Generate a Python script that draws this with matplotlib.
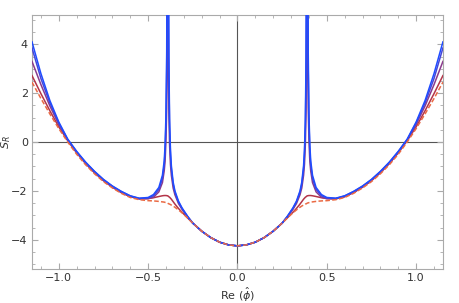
import numpy as np
import matplotlib.pyplot as plt
from matplotlib.ticker import MultipleLocator

# sample positions (x >= 0); curves are symmetric about x = 0
x_half = [0.0, 0.05, 0.1, 0.15, 0.2, 0.25, 0.28, 0.31, 0.33, 0.35, 0.36, 0.37, 0.375,
          0.38, 0.384, 0.387, 0.389, 0.391, 0.393, 0.396, 0.40, 0.405, 0.41, 0.42,
          0.44, 0.47, 0.5, 0.55, 0.6, 0.65, 0.7, 0.75, 0.8, 0.85, 0.9, 0.95, 1.0,
          1.05, 1.1, 1.15]

# dashed (smooth) curve
s_a = [-4.25, -4.21, -4.10, -3.91, -3.65, -3.32, -3.10, -2.90, -2.78, -2.67, -2.62, -2.58, -2.56,
       -2.54, -2.53, -2.52, -2.51, -2.50, -2.495, -2.49, -2.48, -2.47, -2.46, -2.45,
       -2.43, -2.41, -2.40, -2.36, -2.27, -2.10, -1.88, -1.62, -1.30, -0.93, -0.50, 0.0, 0.55,
       1.15, 1.78, 2.45]
# red, small bump
s_b = [-4.25, -4.21, -4.10, -3.91, -3.65, -3.32, -3.10, -2.88, -2.72, -2.54, -2.44, -2.34, -2.30,
       -2.26, -2.24, -2.22, -2.21, -2.20, -2.20, -2.195, -2.19, -2.19, -2.19, -2.20,
       -2.23, -2.28, -2.31, -2.32, -2.24, -2.07, -1.85, -1.58, -1.26, -0.88, -0.44, 0.06, 0.62,
       1.28, 1.98, 2.72]
# purple, tall peak
s_c = [-4.25, -4.21, -4.10, -3.91, -3.65, -3.32, -3.06, -2.76, -2.52, -2.16, -1.88, -1.36, -0.92,
       -0.10, 1.30, 3.60, 8.00, 8.00, 3.60, 1.40, 0.10, -0.78, -1.18, -1.66,
       -2.04, -2.26, -2.32, -2.33, -2.23, -2.06, -1.84, -1.57, -1.24, -0.87, -0.43, 0.07, 0.72,
       1.48, 2.35, 3.30]
# blue-purple, near-divergent
s_d = [-4.25, -4.21, -4.10, -3.91, -3.65, -3.32, -3.04, -2.72, -2.46, -2.06, -1.73, -1.12, -0.52,
       0.62, 2.80, 7.10, 13.5, 13.5, 7.10, 3.00, 0.85, -0.38, -0.95, -1.50,
       -1.94, -2.20, -2.29, -2.31, -2.21, -2.03, -1.81, -1.54, -1.21, -0.84, -0.40, 0.10, 0.78,
       1.60, 2.60, 3.85]
# blue, divergent
s_e = [-4.25, -4.21, -4.10, -3.91, -3.65, -3.32, -3.03, -2.70, -2.42, -2.00, -1.64, -0.97, -0.33,
       0.94, 3.47, 9.80, 34.9, 34.9, 10.0, 3.70, 1.15, -0.12, -0.77, -1.36,
       -1.86, -2.15, -2.27, -2.30, -2.20, -2.02, -1.80, -1.53, -1.20, -0.82, -0.38, 0.12, 0.82,
       1.70, 2.80, 4.10]

curves = [s_a, s_b, s_c, s_d, s_e]
colors = ["#ea6a44", "#b33448", "#8a3a8c", "#4646d8", "#1f4cff"]
styles = ["--", "-", "-", "-", "-"]
# dashed on top, then blue down to red
layer = [10, 3, 4, 5, 6]


def mirror(xs, ys):
    xs = np.asarray(xs)
    ys = np.asarray(ys)
    return np.concatenate([-xs[:0:-1], xs]), np.concatenate([ys[:0:-1], ys])


fig = plt.figure(figsize=(4.59, 3.03), dpi=100)
ax = fig.add_axes([0.0697, 0.112, 0.8953, 0.8385])

ax.axhline(0, color="#555555", lw=0.8, zorder=1)
ax.axvline(0, color="#555555", lw=0.8, zorder=1)

for ys, c, ls, z in zip(curves, colors, styles, layer):
    xx, yy = mirror(x_half, ys)
    line, = ax.plot(xx, yy, color=c, ls=ls, lw=1.1, zorder=z)
    if ls == "--":
        line.set_dashes((3, 1.5))

ax.set_xlim(-1.15, 1.15)
ax.set_ylim(-5.2, 5.2)

ax.xaxis.set_major_locator(MultipleLocator(0.5))
ax.xaxis.set_minor_locator(MultipleLocator(0.1))
ax.yaxis.set_major_locator(MultipleLocator(2))
ax.yaxis.set_minor_locator(MultipleLocator(0.5))
ax.xaxis.set_major_formatter(lambda v, p: f"{v:.1f}".replace("-", "\u2212"))
ax.yaxis.set_major_formatter(lambda v, p: f"{v:.0f}".replace("-", "\u2212"))

ax.tick_params(which="both", direction="in", top=True, right=True, color="#aaaaaa",
               labelsize=8, labelcolor="#333333", pad=3)
ax.tick_params(which="major", length=4, width=0.8)
ax.tick_params(which="minor", length=2, width=0.6)
for sp in ax.spines.values():
    sp.set_color("#aaaaaa")
    sp.set_linewidth(0.8)

ax.set_xlabel(r"Re ($\hat{\phi}$)", fontsize=8, color="#333333", labelpad=2)
ax.set_ylabel(r"$S_R$", fontsize=8, color="#333333")
ax.yaxis.set_label_coords(-0.045, 0.5)

fig.savefig("out.png", dpi=100)
